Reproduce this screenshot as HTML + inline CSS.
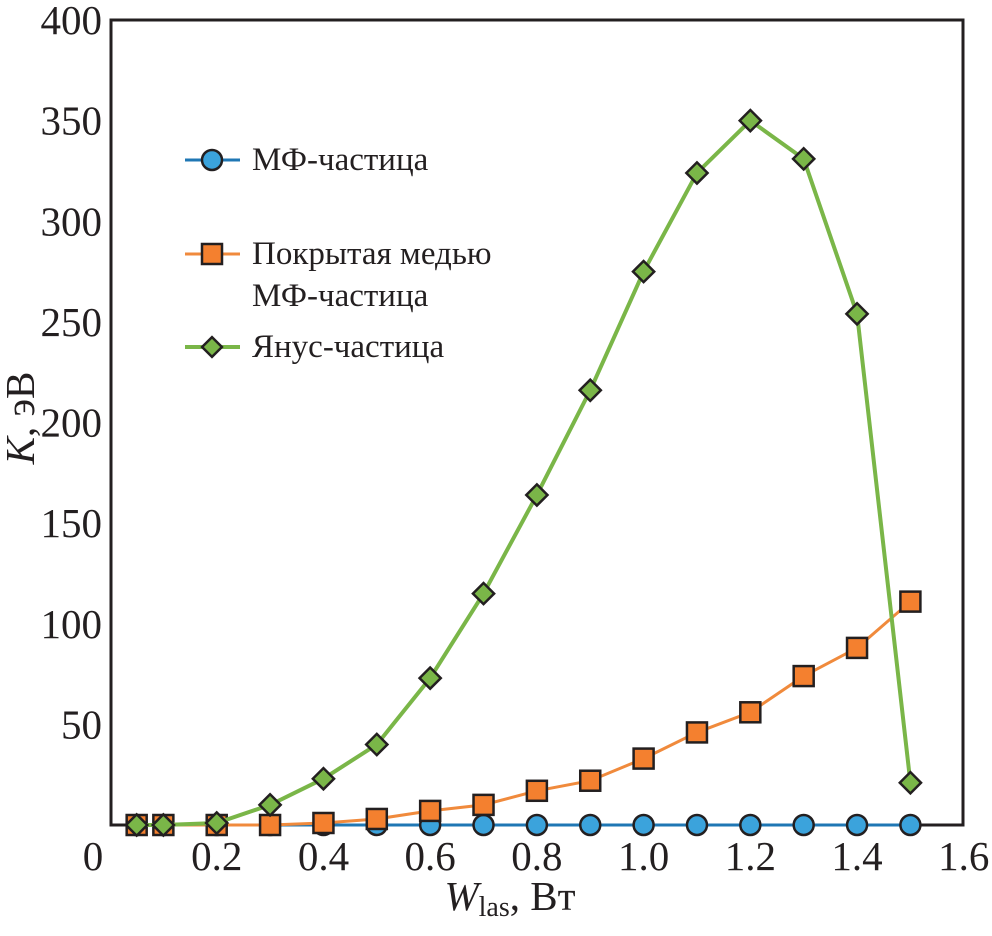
<!DOCTYPE html>
<html><head><meta charset="utf-8"><style>
body{margin:0;background:#fff}
svg text{font-family:"Liberation Serif",serif;fill:#231f20}
</style></head><body>
<svg id="chart" width="992" height="931">
<g id="ticks"></g>
<rect x="111" y="20" width="852" height="805" fill="none" stroke="#231f20" stroke-width="3"/>
<g id="series"></g>
<text x="34" y="418" transform="rotate(-90 34 418)" text-anchor="middle" font-size="41"><tspan font-style="italic">K</tspan>, эВ</text>
<text x="510" y="910" text-anchor="middle" font-size="41"><tspan font-style="italic">W</tspan><tspan font-size="28" dy="6">las</tspan><tspan dy="-6">, Вт</tspan></text>
<g>
<g>
<line x1="185" y1="160" x2="240" y2="160" stroke="#1f77b4" stroke-width="3"/>
<circle cx="212" cy="160" r="10" fill="#3ba3dc" stroke="#231f20" stroke-width="2.5"/>
<text x="252" y="170" font-size="33">МФ-частица</text></g>
<g>
<line x1="185" y1="254" x2="240" y2="254" stroke="#f08a3c" stroke-width="3"/>
<rect x="202" y="244" width="20" height="20" fill="#f4802f" stroke="#231f20" stroke-width="2.5"/>
<text x="252" y="264" font-size="33">Покрытая медью</text>
<text x="252" y="306" font-size="33">МФ-частица</text></g>
<g>
<line x1="185" y1="347" x2="240" y2="347" stroke="#7ab648" stroke-width="4"/>
<rect x="205" y="340" width="14" height="14" transform="rotate(45 212 347)" fill="#7ab648" stroke="#231f20" stroke-width="2.5"/>
<text x="252" y="357" font-size="33">Янус-частица</text></g>
</g>
</svg>
<script>
const xVals=[0.05,0.1,0.2,0.3,0.4,0.5,0.6,0.7,0.8,0.9,1.0,1.1,1.2,1.3,1.4,1.5];
const mfVals=[0,0,0,0,0,0,0,0,0,0,0,0,0,0,0,0];
const copperVals=[0,0,0,0,1,3,7,10,17,22,33,46,56,74,88,111];
const janusVals=[0,0,1,10,23,40,73,115,164,216,275,324,350,331,254,21];
const xTicks=[0,0.2,0.4,0.6,0.8,1.0,1.2,1.4,1.6];
const xTickLabels=["0","0.2","0.4","0.6","0.8","1.0","1.2","1.4","1.6"];
const yTicks=[50,100,150,200,250,300,350,400];
const NS="http://www.w3.org/2000/svg";
const X=v=>110+v*533.6;
const Y=v=>825-v*2.0125;
const tg=document.getElementById('ticks'),sg=document.getElementById('series');
function mk(tag,attrs,parent){const e=document.createElementNS(NS,tag);for(const k in attrs)e.setAttribute(k,attrs[k]);parent.appendChild(e);return e;}
xTicks.forEach((t,i)=>{const e=mk('text',{x:i===0?X(t)-17:X(t),y:870,'text-anchor':'middle','font-size':41},tg);e.textContent=xTickLabels[i];

});
yTicks.forEach(t=>{const e=mk('text',{x:102,y:Y(t)+14,'text-anchor':'end','font-size':41},tg);e.textContent=String(t);

});
function series(vals,color,lw,marker,fill,name){
const g=mk('g',{},sg);


mk('polyline',{points:vals.map((v,i)=>X(xVals[i])+','+Y(v)).join(' '),fill:'none',stroke:color,'stroke-width':lw},g);
vals.forEach((v,i)=>{const cx=X(xVals[i]),cy=Y(v);let m;
if(marker==='c')m=mk('circle',{cx,cy,r:10,fill,stroke:'#231f20','stroke-width':2.5},g);
else if(marker==='s')m=mk('rect',{x:cx-10,y:cy-10,width:20,height:20,fill,stroke:'#231f20','stroke-width':2.5},g);
else m=mk('rect',{x:cx-7.5,y:cy-7.5,width:15,height:15,transform:`rotate(45 ${cx} ${cy})`,fill,stroke:'#231f20','stroke-width':2.5},g);

});
}
series(mfVals,'#1f77b4',3,'c','#3ba3dc','mf-series');
series(copperVals,'#f08a3c',3,'s','#f4802f','copper-series');
series(janusVals,'#7ab648',4,'d','#7ab648','janus-series');
</script>
</body></html>
